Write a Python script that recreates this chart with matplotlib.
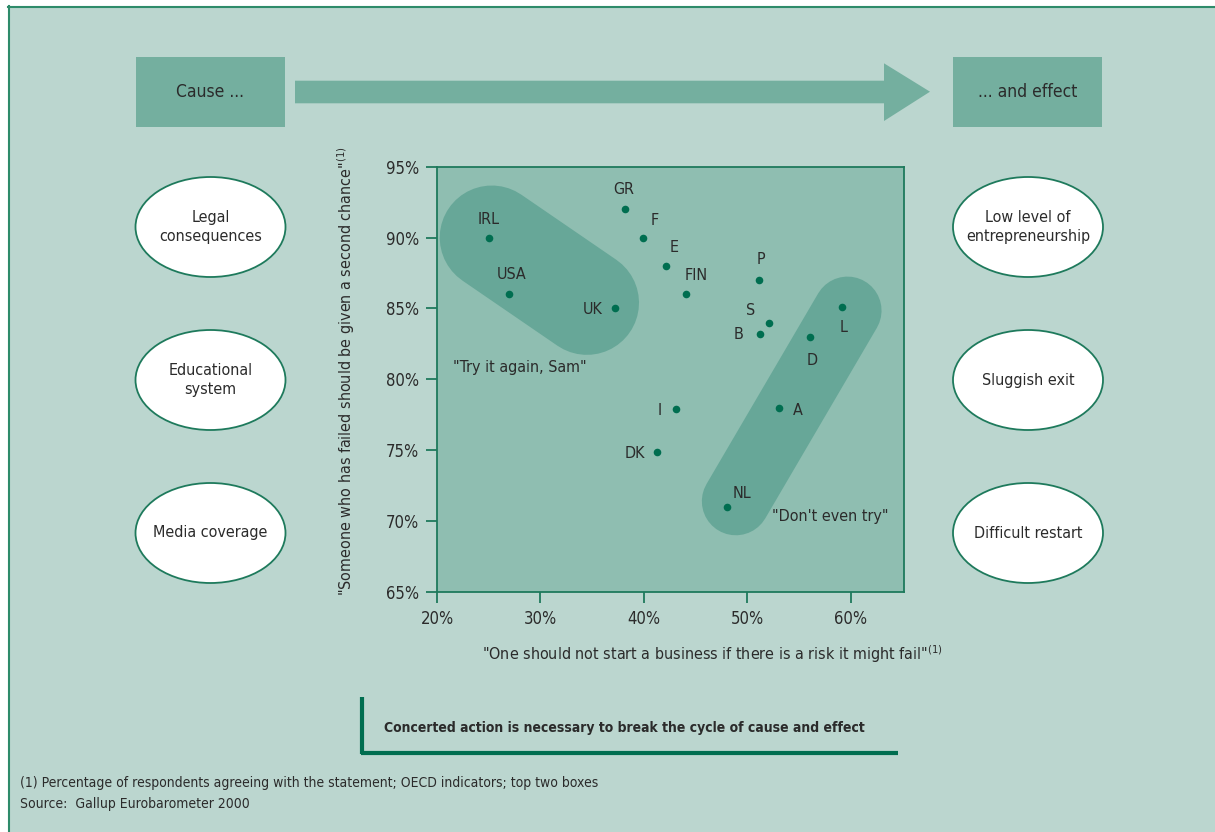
import matplotlib
matplotlib.use("Agg")
import matplotlib.pyplot as plt
from matplotlib import font_manager
from matplotlib.patches import Rectangle, Ellipse, Polygon

# pick a narrow font if there is one
names = {f.name for f in font_manager.fontManager.ttflist}
if 'Liberation Sans Narrow' in names:
    plt.rcParams['font.family'] = ['Liberation Sans Narrow', 'DejaVu Sans']
    plt.rcParams['mathtext.fontset'] = 'custom'
    plt.rcParams['mathtext.rm'] = 'Liberation Sans Narrow'
else:
    plt.rcParams['font.family'] = ['DejaVu Sans']
    plt.rcParams['font.stretch'] = 'condensed'

# data: % agreeing with each statement
countries = ['IRL', 'USA', 'UK', 'GR', 'F', 'E', 'FIN', 'P', 'S', 'B', 'L', 'D', 'I', 'A', 'DK', 'NL']
risk_fail = [25.0, 27.0, 37.2, 38.2, 39.9, 42.1, 44.1, 51.1, 52.1, 51.2, 59.2, 56.1, 43.1, 53.1, 41.3, 48.0]
second_chance = [90.0, 86.0, 85.0, 92.0, 90.0, 88.0, 86.0, 87.0, 84.0, 83.2, 85.1, 83.0, 77.9, 78.0, 74.9, 71.0]

x_ticks = [20, 30, 40, 50, 60]
y_ticks = [65, 70, 75, 80, 85, 90, 95]

causes = ['Legal\nconsequences', 'Educational\nsystem', 'Media coverage']
effects = ['Low level of\nentrepreneurship', 'Sluggish exit', 'Difficult restart']

# label offsets in points (dx, dy)
label_offsets = [(0, 13), (1.5, 14), (-16, -0.5), (-1, 14), (8.5, 12), (6.5, 13.5), (7, 13.5),
                 (1.5, 15), (-13, 8.5), (-15, -0.5), (1, -15), (1.5, -17), (-12, -1), (13.5, -2),
                 (-16, -1), (11, 10)]

# highlighted groups (ends of the bands, in data units)
try_again_band = [(25.3, 34.5), (90.0, 85.4)]
dont_try_band = [(48.9, 59.7), (71.4, 84.85)]

bg = '#BBD6CF'
plot_bg = '#8FBEB1'
band = '#67A798'
box = '#74AF9F'
dark = '#006E50'
txt = '#2B2B2B'

fig = plt.figure(figsize=(12.15, 8.32), dpi=100)
fig.patch.set_facecolor('white')

# overlay in pixel coords for the frame and diagram parts
deco = fig.add_axes([0, 0, 1, 1], zorder=0)
deco.set_xlim(0, 1215)
deco.set_ylim(832, 0)
deco.axis('off')

deco.add_patch(Rectangle((8, 6), 1207, 826, facecolor=bg, edgecolor='none'))
deco.plot([8, 1215], [6.5, 6.5], color='#2E8B6A', lw=1.5)
deco.plot([8.5, 8.5], [6, 832], color='#2E8B6A', lw=1.5)

deco.add_patch(Rectangle((136, 57), 149, 70, facecolor=box, edgecolor='none'))
deco.add_patch(Rectangle((953, 57), 149, 70, facecolor=box, edgecolor='none'))
deco.add_patch(Polygon([(295, 80.7), (884, 80.7), (884, 63.3), (930, 91.7),
                        (884, 121), (884, 103.3), (295, 103.3)],
                       closed=True, facecolor=box, edgecolor='none'))
deco.text(210.5, 92, 'Cause ...', ha='center', va='center', fontsize=12.5, color=txt)
deco.text(1027.5, 92, '... and effect', ha='center', va='center', fontsize=12.5, color=txt)

for i in range(3):
    yc = 227 + i * 153
    deco.add_patch(Ellipse((210.5, yc), 150, 100, facecolor='white', edgecolor='#1E7A5C', lw=1.3))
    deco.add_patch(Ellipse((1028, yc), 150, 100, facecolor='white', edgecolor='#1E7A5C', lw=1.3))
    deco.text(210.5, yc, causes[i], ha='center', va='center', fontsize=11.5, color=txt, linespacing=1.35)
    deco.text(1028, yc, effects[i], ha='center', va='center', fontsize=11.5, color=txt, linespacing=1.35)

# call-out at the bottom
deco.plot([362, 362], [697, 754], color=dark, lw=3, solid_capstyle='butt')
deco.plot([360.5, 898], [752.5, 752.5], color=dark, lw=3, solid_capstyle='butt')
deco.text(384, 728, 'Concerted action is necessary to break the cycle of cause and effect',
          ha='left', va='center', fontsize=10, fontweight='bold', color=txt)

deco.text(20, 783, '(1) Percentage of respondents agreeing with the statement; OECD indicators; top two boxes',
          ha='left', va='center', fontsize=10, color=txt)
deco.text(20, 804, 'Source:  Gallup Eurobarometer 2000',
          ha='left', va='center', fontsize=10, color=txt)

# scatter
ax = fig.add_axes([437 / 1215, (832 - 592) / 832, 467 / 1215, 425.3 / 832], zorder=1)
ax.set_facecolor(plot_bg)
ax.set_xlim(20, 65.16)
ax.set_ylim(65, 95)

ax.plot(try_again_band[0], try_again_band[1], color=band, lw=75, solid_capstyle='round', zorder=1)
ax.plot(dont_try_band[0], dont_try_band[1], color=band, lw=49, solid_capstyle='round', zorder=1)

ax.scatter(risk_fail, second_chance, s=30, color=dark, zorder=3, linewidths=0)
for name, xv, yv, off in zip(countries, risk_fail, second_chance, label_offsets):
    ax.annotate(name, (xv, yv), xytext=off, textcoords='offset points',
                ha='center', va='center', fontsize=11.5, color=txt, zorder=4)

ax.text(28.0, 80.85, '"Try it again, Sam"', ha='center', va='center', fontsize=11.5, color=txt)
ax.text(58.0, 70.3, '"Don\'t even try"', ha='center', va='center', fontsize=11.5, color=txt)

ax.set_xticks(x_ticks)
ax.set_xticklabels([str(v) + '%' for v in x_ticks])
ax.set_yticks(y_ticks)
ax.set_yticklabels([str(v) + '%' for v in y_ticks])
ax.tick_params(direction='out', length=8, width=1.3, color='#1E7A5C', labelsize=12,
               labelcolor=txt, pad=5)
for sp in ax.spines.values():
    sp.set_color('#1E7A5C')
    sp.set_linewidth(1.3)

ax.set_xlabel('"One should not start a business if there is a risk it might fail"$^{(1)}$',
              fontsize=11.5, color=txt)
ax.xaxis.set_label_coords(0.589, -0.12)
ax.set_ylabel('"Someone who has failed should be given a second chance"$^{(1)}$',
              fontsize=11.5, color=txt)
ax.yaxis.set_label_coords(-0.171, 0.52)

fig.savefig('out.png', dpi=100)
